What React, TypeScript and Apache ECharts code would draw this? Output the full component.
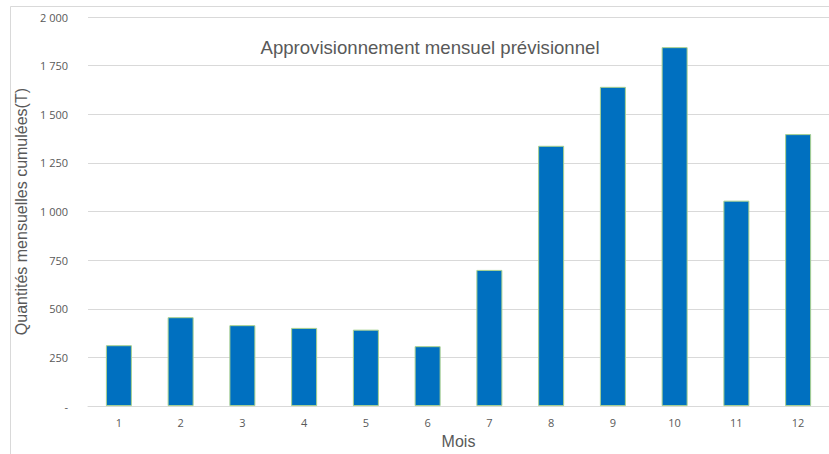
import React, { useEffect, useRef } from "react";
import * as echarts from "echarts";

const months = ["1", "2", "3", "4", "5", "6", "7", "8", "9", "10", "11", "12"];
const quantities = [313, 457, 416, 402, 393, 308, 700, 1338, 1641, 1845, 1056, 1398];
const yTicks = { min: 0, max: 2000, interval: 250 };
const titleText = "Approvisionnement mensuel prévisionnel";
const yName = "Quantités mensuelles cumulées(T)";
const xName = "Mois";

function fmt(v: number): string {
  if (v === 0) return "-";
  const s = String(Math.round(v));
  return s.replace(/\B(?=(\d{3})+(?!\d))/g, " ");
}

export default function App() {
  const ref = useRef<HTMLDivElement>(null);
  useEffect(() => {
    if (!ref.current) return;
    const chart = echarts.init(ref.current, undefined, { renderer: "svg" });
    const grey = "#595959";
    chart.setOption({
      animation: false,
      backgroundColor: "#ffffff",
      textStyle: { fontFamily: "Liberation Sans, Arial, sans-serif" },
      title: {
        text: titleText,
        left: 425,
        top: 33,
        textAlign: "center",
        textStyle: { fontSize: 18.6, fontWeight: "normal", color: grey, fontFamily: "Liberation Sans, Arial, sans-serif" },
      },
      graphic: [
        {
          type: "polyline",
          shape: { points: [[10.5, 460], [10.5, 6.5], [840, 6.5]] },
          style: { stroke: "#d9d9d9", lineWidth: 1, fill: "none" },
          silent: true,
        },
      ],
      grid: { left: 88, top: 17, width: 743, height: 390 },
      xAxis: {
        type: "category",
        data: months,
        name: xName,
        nameLocation: "middle",
        nameGap: 25,
        nameTextStyle: { fontSize: 16, color: grey },
        axisLine: { show: true, lineStyle: { color: "#d9d9d9", width: 1 } },
        axisTick: { show: false },
        axisLabel: { color: grey, fontSize: 11, margin: 11, fontFamily: "Open Sans, sans-serif" },
      },
      yAxis: {
        type: "value",
        min: yTicks.min,
        max: yTicks.max,
        interval: yTicks.interval,
        name: yName,
        nameLocation: "middle",
        nameGap: 50,
        nameTextStyle: { fontSize: 16, color: grey },
        axisLine: { show: false },
        axisTick: { show: false },
        splitLine: { lineStyle: { color: "#d9d9d9", width: 1 } },
        axisLabel: {
          color: grey,
          fontSize: 11,
          margin: 20,
          fontFamily: "Open Sans, sans-serif",
          formatter: (v: number) => fmt(v),
        },
      },
      series: [
        {
          type: "bar",
          data: quantities,
          barWidth: 26,
          itemStyle: { color: "#0070c0", borderColor: "#a9d18e", borderWidth: 1 },
        },
      ],
    });
    return () => chart.dispose();
  }, []);
  return (
    <div
      ref={ref}
      style={{ position: "fixed", left: 0, top: 0, width: 829, height: 454 }}
    />
  );
}
